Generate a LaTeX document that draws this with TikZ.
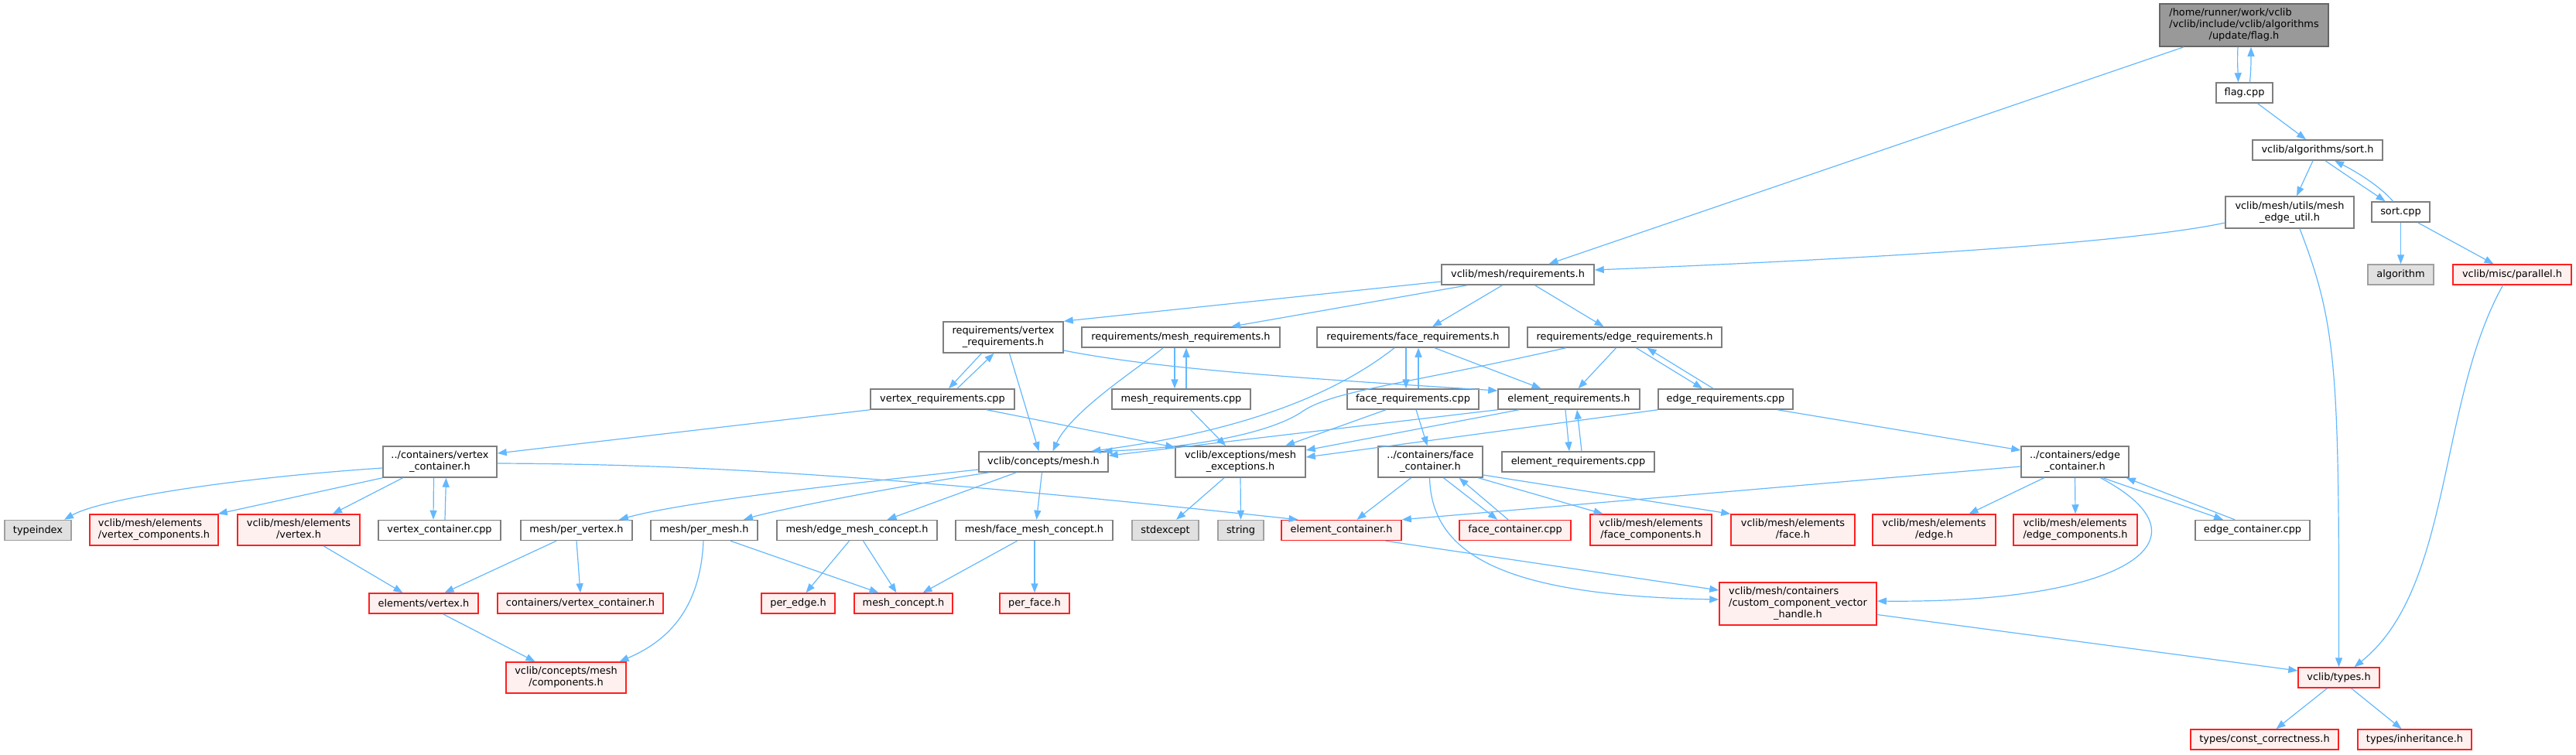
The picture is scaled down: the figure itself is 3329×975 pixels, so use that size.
\documentclass[tikz,border=0pt]{standalone}
\usepackage{fontspec}
\setmainfont{DejaVu Sans}
\usetikzlibrary{arrows.meta}
\definecolor{edgec}{HTML}{63B8FF}
\definecolor{ndborder}{HTML}{7F7F7F}
\definecolor{mainborder}{HTML}{666666}
\definecolor{mainfill}{HTML}{999999}
\definecolor{grayfill}{HTML}{E0E0E0}
\definecolor{grayborder}{HTML}{A0A0A0}
\definecolor{redfill}{HTML}{FFF0F0}
\definecolor{redborder}{HTML}{FF2020}
\newcommand{\twoln}[2]{\begin{tabular}{@{}l@{}}#1\\\multicolumn{1}{@{}c@{}}{#2}\end{tabular}}
\newcommand{\threeln}[3]{\begin{tabular}{@{}l@{}}#1\\#2\\\multicolumn{1}{@{}c@{}}{#3}\end{tabular}}
\begin{document}
\begin{tikzpicture}[x=1pt,y=-1pt,
  base/.style={rectangle,inner sep=0pt,minimum height=26pt,line width=1.5pt,
    font=\fontsize{12.9}{15}\selectfont,text=black},
  nd/.style={base,draw=ndborder,fill=white},
  mainnd/.style={base,draw=mainborder,fill=mainfill},
  gd/.style={base,draw=grayborder,fill=grayfill},
  rd/.style={base,draw=redborder,fill=redfill},
  e/.style={draw=edgec,line width=1.2pt,-{Triangle[length=12pt,width=9pt]},fill=none}]
\useasboundingbox (0,0) rectangle (3329,975);
% nodes
\node[mainnd,minimum width=218,minimum height=55] (main) at (2900,32.5) {\threeln{/home/runner/work/vclib}{/vclib/include/vclib/algorithms}{/update/flag.h}};
\node[nd,minimum width=73] (flagcpp) at (2900.5,120) {flag.cpp};
\node[nd,minimum width=168] (sorth) at (2995,194) {vclib/algorithms/sort.h};
\node[nd,minimum width=166,minimum height=41] (meu) at (2959,274.5) {\twoln{vclib/mesh/utils/mesh}{\_edge\_util.h}};
\node[nd,minimum width=75] (sortcpp) at (3102.5,274) {sort.cpp};
\node[nd,minimum width=197] (reqh) at (1961.5,355) {vclib/mesh/requirements.h};
\node[gd,minimum width=85] (algorithm) at (3102.5,355) {algorithm};
\node[rd,minimum width=153] (parallel) at (3246.5,355) {vclib/misc/parallel.h};
\node[nd,minimum width=155,minimum height=40] (vreqh) at (1296.5,436) {\twoln{requirements/vertex}{\_requirements.h}};
\node[nd,minimum width=256] (mreqh) at (1526,436) {requirements/mesh\_requirements.h};
\node[nd,minimum width=248] (freqh) at (1826,436) {requirements/face\_requirements.h};
\node[nd,minimum width=251] (ereqh) at (2099.5,436) {requirements/edge\_requirements.h};
\node[nd,minimum width=186] (vreqcpp) at (1218,516) {vertex\_requirements.cpp};
\node[nd,minimum width=179] (mreqcpp) at (1526.5,516) {mesh\_requirements.cpp};
\node[nd,minimum width=170] (freqcpp) at (1826,516) {face\_requirements.cpp};
\node[nd,minimum width=183] (elreqh) at (2027.5,516) {element\_requirements.h};
\node[nd,minimum width=174] (ereqcpp) at (2230,516) {edge\_requirements.cpp};
\node[nd,minimum width=147,minimum height=40] (vcont) at (568.5,597) {\twoln{../containers/vertex}{\_container.h}};
\node[nd,minimum width=167] (meshh) at (1348.5,597) {vclib/concepts/mesh.h};
\node[nd,minimum width=168,minimum height=40] (mexc) at (1603,597) {\twoln{vclib/exceptions/mesh}{\_exceptions.h}};
\node[nd,minimum width=135,minimum height=40] (fcont) at (1848.5,597) {\twoln{../containers/face}{\_container.h}};
\node[nd,minimum width=197] (elreqcpp) at (2039.5,597) {element\_requirements.cpp};
\node[nd,minimum width=139,minimum height=40] (econt) at (2681.5,597) {\twoln{../containers/edge}{\_container.h}};
\node[gd,minimum width=86] (typeindex) at (49,685.5) {typeindex};
\node[rd,minimum width=166,minimum height=40] (vcomp) at (199,685) {\twoln{vclib/mesh/elements}{/vertex\_components.h}};
\node[rd,minimum width=158,minimum height=40] (evert) at (386,685) {\twoln{vclib/mesh/elements}{/vertex.h}};
\node[nd,minimum width=158] (vcontcpp) at (568,685.5) {vertex\_container.cpp};
\node[nd,minimum width=144] (pervert) at (745,685.5) {mesh/per\_vertex.h};
\node[nd,minimum width=138] (permesh) at (910,685.5) {mesh/per\_mesh.h};
\node[nd,minimum width=207] (emc) at (1107.5,685.5) {mesh/edge\_mesh\_concept.h};
\node[nd,minimum width=203] (fmc) at (1336.5,685.5) {mesh/face\_mesh\_concept.h};
\node[gd,minimum width=86] (stdexcept) at (1506,685.5) {stdexcept};
\node[gd,minimum width=59] (string) at (1603.5,685.5) {string};
\node[rd,minimum width=155] (elcont) at (1733.5,685.5) {element\_container.h};
\node[rd,minimum width=144] (fcontcpp) at (1958,685.5) {face\_container.cpp};
\node[rd,minimum width=157,minimum height=40] (fcomp) at (2133.5,685) {\twoln{vclib/mesh/elements}{/face\_components.h}};
\node[rd,minimum width=160,minimum height=40] (eface) at (2317,685) {\twoln{vclib/mesh/elements}{/face.h}};
\node[rd,minimum width=159,minimum height=40] (eedge) at (2499.5,685) {\twoln{vclib/mesh/elements}{/edge.h}};
\node[rd,minimum width=160,minimum height=40] (ecomp) at (2682,685) {\twoln{vclib/mesh/elements}{/edge\_components.h}};
\node[nd,minimum width=148] (econtcpp) at (2911,685.5) {edge\_container.cpp};
\node[rd,minimum width=141] (elvertex) at (547.5,780) {elements/vertex.h};
\node[rd,minimum width=214] (cvc) at (750,780) {containers/vertex\_container.h};
\node[rd,minimum width=95] (peredge) at (1031.5,780) {per\_edge.h};
\node[rd,minimum width=127] (meshconcept) at (1167.5,780) {mesh\_concept.h};
\node[rd,minimum width=90] (perface) at (1337,780) {per\_face.h};
\node[rd,minimum width=203,minimum height=55] (cch) at (2323.5,780.5) {\threeln{vclib/mesh/containers}{/custom\_component\_vector}{\_handle.h}};
\node[rd,minimum width=155,minimum height=40] (components) at (731.5,876) {\twoln{vclib/concepts/mesh}{/components.h}};
\node[rd,minimum width=105] (types) at (3022.5,876) {vclib/types.h};
\node[rd,minimum width=191] (constc) at (2926.5,956) {types/const\_correctness.h};
\node[rd,minimum width=147] (inherit) at (3120.5,956) {types/inheritance.h};
% edges
\draw[e] ([xshift=-8]main.south) .. controls (2891,80) and (2892,90) .. ([xshift=-8]flagcpp.north);
\draw[e] ([xshift=7]flagcpp.north) .. controls (2909,90) and (2909,80) .. ([xshift=9]main.south);
\draw[e] ([xshift=32]main.south west) -- ([xshift=40]reqh.north);
\draw[e] ([xshift=17]flagcpp.south) -- ([xshift=-15]sorth.north);
\draw[e] ([xshift=-6]sorth.south) -- ([xshift=9]meu.north);
\draw[e] ([xshift=10]sorth.south) .. controls (3030,225) and (3060,245) .. ([xshift=-20]sortcpp.north);
\draw[e] ([xshift=-10]sortcpp.north) .. controls (3075,240) and (3045,222) .. ([xshift=22]sorth.south);
\draw[e] (sortcpp.south) -- (algorithm.north);
\draw[e] ([xshift=22]sortcpp.south) -- ([xshift=-24]parallel.north);
\draw[e] ([yshift=-13.5]meu.west) .. controls (2750,315) and (2400,335) .. ([yshift=6]reqh.east);
\draw[e] ([xshift=13]meu.south) .. controls (3020,420) and (3023,480) .. (types.north);
\draw[e] ([xshift=-12]parallel.south) .. controls (3150,520) and (3170,760) .. ([xshift=20]types.north);
\draw[e] ([yshift=-9]reqh.west) -- (vreqh.north east);
\draw[e] ([xshift=-65]reqh.south) -- ([xshift=65]mreqh.north);
\draw[e] ([xshift=-20]reqh.south) -- ([xshift=25]freqh.north);
\draw[e] ([xshift=22]reqh.south) -- ([xshift=-27]ereqh.north);
\draw[e] ([xshift=-28]vreqh.south) -- ([xshift=8]vreqcpp.north);
\draw[e] ([xshift=19]vreqcpp.north) -- ([xshift=-12]vreqh.south);
\draw[e] ([xshift=8]vreqh.south) -- ([xshift=-6]meshh.north);
\draw[e] ([yshift=-17]vreqh.east) .. controls (1500,478) and (1700,490) .. ([yshift=11]elreqh.west);
\draw[e] ([xshift=-8]mreqh.south) -- ([xshift=-8.5]mreqcpp.north);
\draw[e] ([xshift=6.5]mreqcpp.north) -- ([xshift=7]mreqh.south);
\draw[e] ([xshift=-23]mreqh.south) .. controls (1480,470) and (1385,530) .. ([xshift=12]meshh.north);
\draw[e] ([xshift=-9]freqh.south) -- ([xshift=-9]freqcpp.north);
\draw[e] ([xshift=7]freqcpp.north) -- ([xshift=7]freqh.south);
\draw[e] ([xshift=-24]freqh.south) .. controls (1700,530) and (1550,565) .. ([xshift=62]meshh.north);
\draw[e] ([xshift=28]freqh.south) -- ([xshift=-36]elreqh.north);
\draw[e] ([xshift=-76]ereqh.south) .. controls (1800,500) and (1720,505) .. (1680,534) .. controls (1630,565) and (1520,580) .. ([xshift=77]meshh.north);
\draw[e] ([xshift=-11]ereqh.south) -- ([xshift=12]elreqh.north);
\draw[e] ([xshift=15]ereqh.south) -- ([xshift=-30]ereqcpp.north);
\draw[e] ([xshift=-16]ereqcpp.north) -- ([xshift=29]ereqh.south);
\draw[e] (vreqcpp.south west) -- ([yshift=11]vcont.east);
\draw[e] ([xshift=57]vreqcpp.south) -- ([yshift=-2]mexc.north west);
\draw[e] ([xshift=12]mreqcpp.south) -- ([xshift=-19]mexc.north);
\draw[e] ([xshift=-35]freqcpp.south) -- ([xshift=58]mexc.north);
\draw[e] ([xshift=4]freqcpp.south) -- ([xshift=-4]fcont.north);
\draw[e] (elreqh.south west) -- ([yshift=8]meshh.east);
\draw[e] ([xshift=-64.5]elreqh.south) -- ([yshift=15]mexc.east);
\draw[e] ([xshift=-4.5]elreqh.south) -- ([xshift=-11.5]elreqcpp.north);
\draw[e] ([xshift=4.5]elreqcpp.north) -- ([xshift=10.5]elreqh.south);
\draw[e] (ereqcpp.south west) -- ([yshift=6]mexc.east);
\draw[e] ([xshift=67]ereqcpp.south) -- ([yshift=15]econt.west);
\draw[e] ([yshift=-8]vcont.west) .. controls (300,618) and (130,645) .. ([xshift=34]typeindex.north);
\draw[e] (vcont.south west) -- ([xshift=-1]vcomp.north east);
\draw[e] ([xshift=-48]vcont.south) -- ([xshift=44]evert.north);
\draw[e] ([xshift=-8]vcont.south) -- ([xshift=-8]vcontcpp.north);
\draw[e] ([xshift=7]vcontcpp.north) -- ([xshift=8]vcont.south);
\draw[e] ([yshift=-2]vcont.east) .. controls (900,600) and (1150,615) .. ([xshift=-56]elcont.north);
\draw[e] ([yshift=-10]meshh.west) .. controls (1050,630) and (880,650) .. ([xshift=55]pervert.north);
\draw[e] ([xshift=-70]meshh.south) .. controls (1150,630) and (1000,660) .. ([xshift=51]permesh.north);
\draw[e] ([xshift=-35]meshh.south) -- ([xshift=39]emc.north);
\draw[e] ([xshift=-2]meshh.south) -- ([xshift=3]fmc.north);
\draw[e] ([xshift=-21]mexc.south) -- ([xshift=14]stdexcept.north);
\draw[e] (mexc.south) -- (string.north);
\draw[e] ([xshift=-25]fcont.south) -- ([xshift=20]elcont.north);
\draw[e] ([xshift=17]fcont.south) -- ([xshift=-23]fcontcpp.north);
\draw[e] ([xshift=-9]fcontcpp.north) -- ([xshift=37]fcont.south);
\draw[e] ([xshift=62]fcont.south) -- ([xshift=-62]fcomp.north);
\draw[e] ([yshift=-17]fcont.east) -- (eface.north west);
\draw[e] ([xshift=-1]fcont.south) .. controls (1850,720) and (1950,770) .. ([yshift=5.5]cch.west);
\draw[e] ([yshift=-6]econt.west) -- (elcont.north east);
\draw[e] ([xshift=-40]econt.south) -- ([xshift=45]eedge.north);
\draw[e] (econt.south) -- (ecomp.north);
\draw[e] ([xshift=36]econt.south) -- ([xshift=-38]econtcpp.north);
\draw[e] ([xshift=-23]econtcpp.north) -- ([xshift=-4]econt.south east);
\draw[e] ([xshift=33]econt.south) .. controls (2870,700) and (2740,780) .. ([yshift=3.5]cch.east);
\draw[e] ([xshift=57]elcont.south) -- ([yshift=17.5]cch.west);
\draw[e] ([xshift=32]evert.south) -- ([xshift=-27]elvertex.north);
\draw[e] ([xshift=-26]pervert.south) -- ([xshift=27]elvertex.north);
\draw[e] (pervert.south) -- (cvc.north);
\draw[e] ([xshift=-1]permesh.south) .. controls (905,790) and (860,830) .. ([xshift=69]components.north);
\draw[e] ([xshift=34]permesh.south) -- ([xshift=-32]meshconcept.north);
\draw[e] ([xshift=-10]emc.south) -- ([xshift=10]peredge.north);
\draw[e] ([xshift=8]emc.south) -- ([xshift=-9]meshconcept.north);
\draw[e] ([xshift=-22]fmc.south) -- ([xshift=25]meshconcept.north);
\draw[e] ([xshift=0.5]fmc.south) -- (perface.north);
\draw[e] ([xshift=25]elvertex.south) -- ([xshift=-40]components.north);
\draw[e] ([yshift=-14]cch.east) -- ([yshift=9]types.west);
\draw[e] ([xshift=-15]types.south) -- ([xshift=15]constc.north);
\draw[e] ([xshift=16]types.south) -- ([xshift=-17]inherit.north);
\end{tikzpicture}
\end{document}
